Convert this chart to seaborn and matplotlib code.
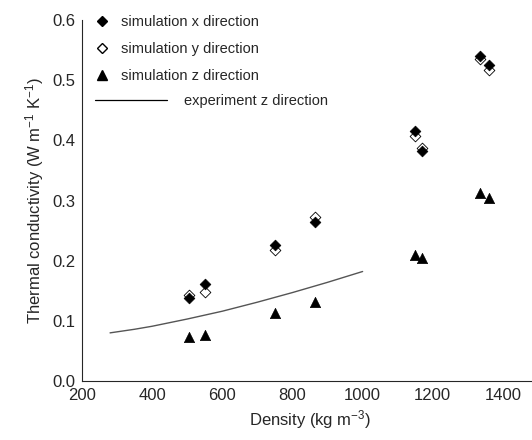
import matplotlib
matplotlib.use('Agg')
from matplotlib import pyplot as plt
from matplotlib.lines import Line2D
import pandas as pd
import seaborn as sns

density = [505, 550, 750, 865, 1150, 1170, 1335, 1360]
sim_x = [0.138, 0.161, 0.226, 0.265, 0.416, 0.383, 0.540, 0.525]
sim_y = [0.143, 0.148, 0.218, 0.272, 0.408, 0.388, 0.535, 0.517]
sim_z = [0.073, 0.076, 0.113, 0.132, 0.210, 0.205, 0.313, 0.304]

exp_density = [280, 350, 400, 450, 500, 600, 700, 800, 900, 1000]
exp_z = [0.080, 0.086, 0.091, 0.097, 0.103, 0.116, 0.131, 0.147, 0.164, 0.182]

sim = pd.DataFrame({"density": density, "x": sim_x, "y": sim_y, "z": sim_z})
exp = pd.DataFrame({"density": exp_density, "z": exp_z})

sns.set_style("white")
plt.rcParams['font.family'] = ['Liberation Sans', 'DejaVu Sans']
plt.rcParams['mathtext.fontset'] = 'custom'
plt.rcParams['mathtext.rm'] = 'Liberation Sans'
plt.rcParams['mathtext.it'] = 'Liberation Sans'

fig = plt.figure(figsize=(5.32, 4.40), dpi=100)
ax = fig.add_axes([82 / 532, 59 / 440, 456 / 532, 361 / 440])

sns.scatterplot(data=sim, x="density", y="x", marker="D", color="black", s=30,
                edgecolor="black", linewidth=0.5, ax=ax, zorder=3)
sns.scatterplot(data=sim, x="density", y="y", marker="D", facecolor="white", s=30,
                edgecolor="black", linewidth=0.6, ax=ax, zorder=2)
sns.scatterplot(data=sim, x="density", y="z", marker="^", color="black", s=55,
                edgecolor="black", linewidth=0.5, ax=ax, zorder=3)
sns.lineplot(data=exp, x="density", y="z", color="#555555", linewidth=1.0, ax=ax)

ax.set_xlim(200, 1500)
ax.set_ylim(0, 0.6)
ax.set_xticks([200, 400, 600, 800, 1000, 1200, 1400])
ax.set_yticks([0.0, 0.1, 0.2, 0.3, 0.4, 0.5, 0.6])
ax.set_yticklabels(["0.0", "0.1", "0.2", "0.3", "0.4", "0.5", "0.6"])
ax.tick_params(labelsize=12, direction='in', length=0, left=True, bottom=True, pad=5)
ax.set_xlabel(r"Density (kg m$^{-3}$)", fontsize=12)
ax.set_ylabel(r"Thermal conductivity (W m$^{-1}$ K$^{-1}$)", fontsize=12)
sns.despine(ax=ax)

h1 = [Line2D([], [], marker="D", color="black", linestyle="none", markersize=5.5),
      Line2D([], [], marker="D", markerfacecolor="white", markeredgecolor="black",
             linestyle="none", markersize=5.5),
      Line2D([], [], marker="^", color="black", linestyle="none", markersize=7.5)]
leg1 = ax.legend(h1, ["simulation x direction", "simulation y direction", "simulation z direction"],
                 loc="upper left", bbox_to_anchor=(0.0, 1.05), frameon=False, fontsize=10.5,
                 handlelength=1.0, handletextpad=0.8, labelspacing=0.9)
ax.add_artist(leg1)
h2 = [Line2D([], [], color="black", linewidth=0.9)]
ax.legend(h2, ["experiment z direction"], loc="upper left", bbox_to_anchor=(0.0, 0.83),
          frameon=False, fontsize=10.5, handlelength=4.9, handletextpad=1.2)

plt.savefig("out.png", dpi=100)
